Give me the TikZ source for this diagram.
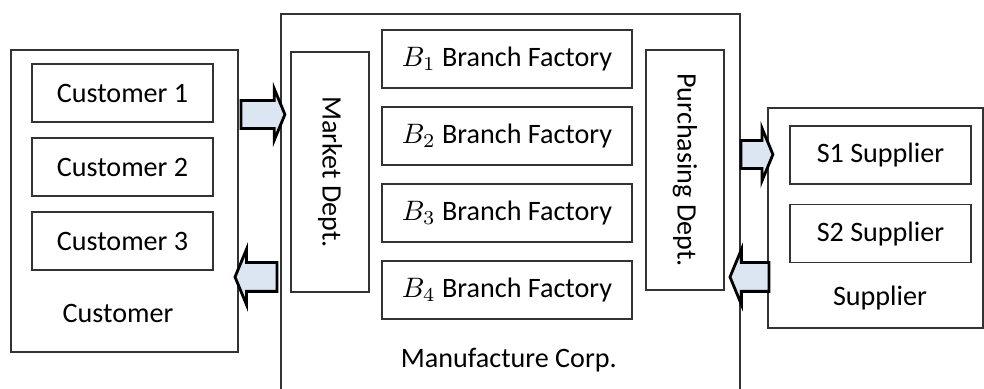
\documentclass[tikz,border=0pt]{standalone}
\usepackage[no-math]{fontspec}
\setmainfont{Carlito}
\usepackage{tikz}
\usetikzlibrary{shapes.arrows}

\definecolor{flowblue}{HTML}{DCE6F2}

\begin{document}
\begin{tikzpicture}[
    font=\fontsize{10}{12}\selectfont,
    box/.style={rectangle, draw=black!80, line width=0.7pt, inner sep=0pt},
    unit/.style={box, minimum width=2.2625cm, minimum height=0.725cm},
    branch/.style={box, minimum width=3.125cm, minimum height=0.725cm},
    dept/.style={box, rotate=-90, minimum width=3.0cm, minimum height=0.975cm},
    flow/.style={single arrow, draw=black, line width=1pt, fill=flowblue,
                 inner xsep=0pt, inner ysep=0.158cm, single arrow tip angle=135},
    lbl/.style={inner sep=0pt}
]
\clip (0,0) rectangle (12.3,-4.8625);

% ---- Customer side ----
\node[box, minimum width=2.8375cm, minimum height=3.775cm] (customer) at (1.556,-2.5125) {};
\node[unit] (cust1) at (1.531,-1.1625) {Customer 1};
\node[unit] (cust2) at (1.531,-2.0875) {Customer 2};
\node[unit] (cust3) at (1.531,-3.0125) {Customer 3};
\node[lbl] (custlbl) at (1.475,-3.9125) {Customer};

% ---- Manufacture corp (bottom edge runs off the page) ----
\node[box, minimum width=5.7375cm, minimum height=4.825cm] (corp) at (6.381,-2.5875) {};
\node[dept] (market) at (4.125,-2.15) {Market Dept.};
\node[branch] (b1) at (6.3375,-0.7375) {$B_1$ Branch Factory};
\node[branch] (b2) at (6.3375,-1.7)    {$B_2$ Branch Factory};
\node[branch] (b3) at (6.3375,-2.6625) {$B_3$ Branch Factory};
\node[branch] (b4) at (6.3375,-3.625)  {$B_4$ Branch Factory};
\node[dept] (purchasing) at (8.5625,-2.125) {Purchasing Dept.};
\node[lbl] (corplbl) at (6.36,-4.5) {Manufacture Corp.};

% ---- Supplier side ----
\node[box, minimum width=2.6875cm, minimum height=2.75cm] (supplier) at (10.944,-2.725) {};
\node[unit] (s1) at (11.006,-1.9375) {S1 Supplier};
\node[unit] (s2) at (11.006,-2.919)  {S2 Supplier};
\node[lbl] (supplbl) at (11.0,-3.725) {Supplier};

% ---- Block arrows ----
\node[flow, minimum height=0.55cm, single arrow head extend=0.144cm]
      (toMarket) at (3.25,-1.431) {};
\node[flow, shape border rotate=180, minimum height=0.525cm, inner ysep=0.1625cm,
      single arrow head extend=0.169cm] (toCustomer) at (3.2375,-3.4625) {};
\node[flow, minimum height=0.4cm, single arrow head extend=0.156cm]
      (toSupplier) at (9.425,-1.931) {};
\node[flow, shape border rotate=180, minimum height=0.4875cm, inner ysep=0.1625cm,
      single arrow head extend=0.1625cm] (toPurchasing) at (9.406,-3.4625) {};

\end{tikzpicture}
\end{document}
